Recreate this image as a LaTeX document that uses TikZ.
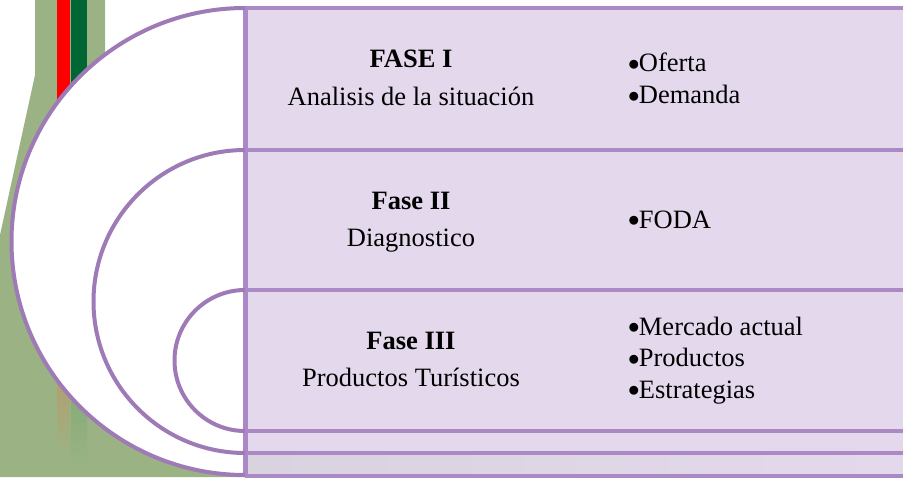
\documentclass[tikz,border=0pt]{standalone}
\usepackage{fontspec}
\setmainfont{Liberation Serif}
\definecolor{bggreen}{HTML}{9BB384}
\definecolor{stripred}{HTML}{FF0000}
\definecolor{stripgreen}{HTML}{006633}
\definecolor{fadebrown}{HTML}{B0A070}
\definecolor{fadegreen}{HTML}{86AC78}
\definecolor{rowfill}{HTML}{E4D9EC}
\definecolor{rowshade}{HTML}{D9D2DF}
\definecolor{lineviolet}{HTML}{AB88C6}
\definecolor{arcviolet}{HTML}{9E7AB7}
\newcommand{\itemdot}{\kern-0.6pt\raisebox{0.6pt}{\scalebox{0.8}{$\bullet$}}\kern-0.4pt}
\newcommand{\itemlist}[1]{\begin{tabular}[t]{@{}l@{}}#1\end{tabular}}
\tikzset{
  rowline/.style={lineviolet, line width=2pt},
  arcline/.style={arcviolet, line width=2pt},
  phasetitle/.style={anchor=base, font=\fontsize{13.25}{19}\selectfont\bfseries},
  phasetext/.style={anchor=base, font=\fontsize{13.25}{19}\selectfont},
  itemtext/.style={anchor=base west, inner sep=0pt, font=\fontsize{13.25}{15.75}\selectfont}
}
\begin{document}
\begin{tikzpicture}[x=0.5pt, y=0.5pt]
\useasboundingbox (0,0) rectangle (903,477);

% green band on the left
\fill[bggreen] (35,477) -- (105,477) -- (105,200) -- (245,200) -- (245,0) -- (0,0) -- (0,242) -- (35,402) -- cycle;
\fill[stripred] (57,477) rectangle (70,250);
\fill[stripgreen] (71,477) rectangle (87,250);
\shade[top color=fadebrown, bottom color=bggreen] (57,95) rectangle (70,22);
\shade[top color=fadegreen, bottom color=bggreen] (71,80) rectangle (87,10);

% white half disk
\fill[white] (245,469) arc[start angle=90, end angle=270, radius=233.5] -- cycle;

% rows
\fill[rowfill] (245,24) rectangle (903,469);
\shade[left color=rowshade, right color=rowfill] (245,0) rectangle (903,24);

\draw[rowline] (245,469) -- (903,469);
\draw[rowline] (245,327) -- (903,327);
\draw[rowline] (245,187) -- (903,187);
\draw[rowline] (245,46) -- (903,46);
\draw[rowline] (245,24) -- (903,24);
\draw[rowline] (245,1) -- (903,1);
\draw[lineviolet, line width=2.5pt] (245,469) -- (245,0);

% arcs
\draw[arcline] (245,469) arc[start angle=90, end angle=270, radius=233.5];
\draw[arcline] (245,327) arc[start angle=90, end angle=270, radius=151.5];
\draw[arcline] (245,187) arc[start angle=90, end angle=270, radius=70.5];

% phase I
\node[phasetitle] (f1title) at (411,409) {FASE I};
\node[phasetext] (f1text) at (411,371) {Analisis de la situación};
\node[itemtext] (f1list) at (629,405) {\itemlist{\itemdot Oferta\\ \itemdot Demanda}};

% phase II
\node[phasetitle] (f2title) at (411,268) {Fase II};
\node[phasetext] (f2text) at (411,231) {Diagnostico};
\node[itemtext] (f2list) at (629,249) {\itemdot FODA};

% phase III
\node[phasetitle] (f3title) at (411,128) {Fase III};
\node[phasetext] (f3text) at (411,91) {Productos Turísticos};
\node[itemtext] (f3list) at (629,142) {\itemlist{\itemdot Mercado actual\\ \itemdot Productos\\ \itemdot Estrategias}};
\end{tikzpicture}
\end{document}
